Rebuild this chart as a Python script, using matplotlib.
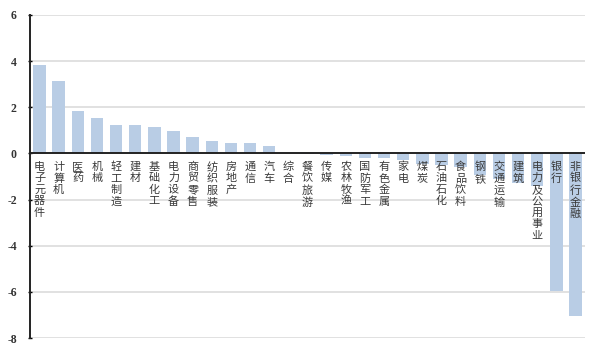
import matplotlib.pyplot as plt

plt.rcParams['font.family'] = ['Noto Sans CJK SC', 'DejaVu Sans']

industries = ['电子元器件', '计算机', '医药', '机械', '轻工制造', '建材', '基础化工',
              '电力设备', '商贸零售', '纺织服装', '房地产', '通信', '汽车', '综合',
              '餐饮旅游', '传媒', '农林牧渔', '国防军工', '有色金属', '家电', '煤炭',
              '石油石化', '食品饮料', '钢铁', '交通运输', '建筑', '电力及公用事业',
              '银行', '非银行金融']
values = [3.85, 3.15, 1.83, 1.52, 1.25, 1.22, 1.13,
          0.95, 0.72, 0.52, 0.46, 0.43, 0.33, 0.02,
          -0.02, -0.05, -0.12, -0.18, -0.2, -0.3, -0.45,
          -0.5, -0.6, -0.95, -1.1, -1.3, -1.4,
          -5.98, -7.05]
yticks = [6, 4, 2, 0, -2, -4, -6, -8]

fig = plt.figure(figsize=(6, 3.54), dpi=100)
ax = fig.add_axes([0.05, 0.045, 0.925, 0.913])

x = list(range(len(industries)))
ax.bar(x, values, width=0.65, color='#b9cde5', zorder=2)

for t in yticks:
    if t != 0:
        ax.axhline(t, color='#dcdcdc', lw=1.2, zorder=1)
ax.axhline(0, color='#222222', lw=1.4, zorder=3)

# vertical labels, one character per line, hanging under the zero line
for i, name in enumerate(industries):
    ax.annotate('\n'.join(name), xy=(i, 0), xytext=(0, -6),
                textcoords='offset points', ha='center', va='top',
                fontsize=8, linespacing=1.18, color='#3a3a3a', zorder=4)

ax.set_xlim(-0.5, len(industries) - 0.5)
ax.set_ylim(-8, 6)
ax.set_yticks(yticks)
ax.set_yticklabels([str(t) for t in yticks], fontsize=8.5, color='#333333',
                   family='Liberation Serif', fontweight='bold')
ax.set_xticks([])
ax.tick_params(axis='y', length=3, width=1, direction='inout', pad=8)

for side in ['top', 'right', 'bottom']:
    ax.spines[side].set_visible(False)
ax.spines['left'].set_color('#222222')
ax.spines['left'].set_linewidth(1.4)

fig.savefig('out.png', dpi=100)
